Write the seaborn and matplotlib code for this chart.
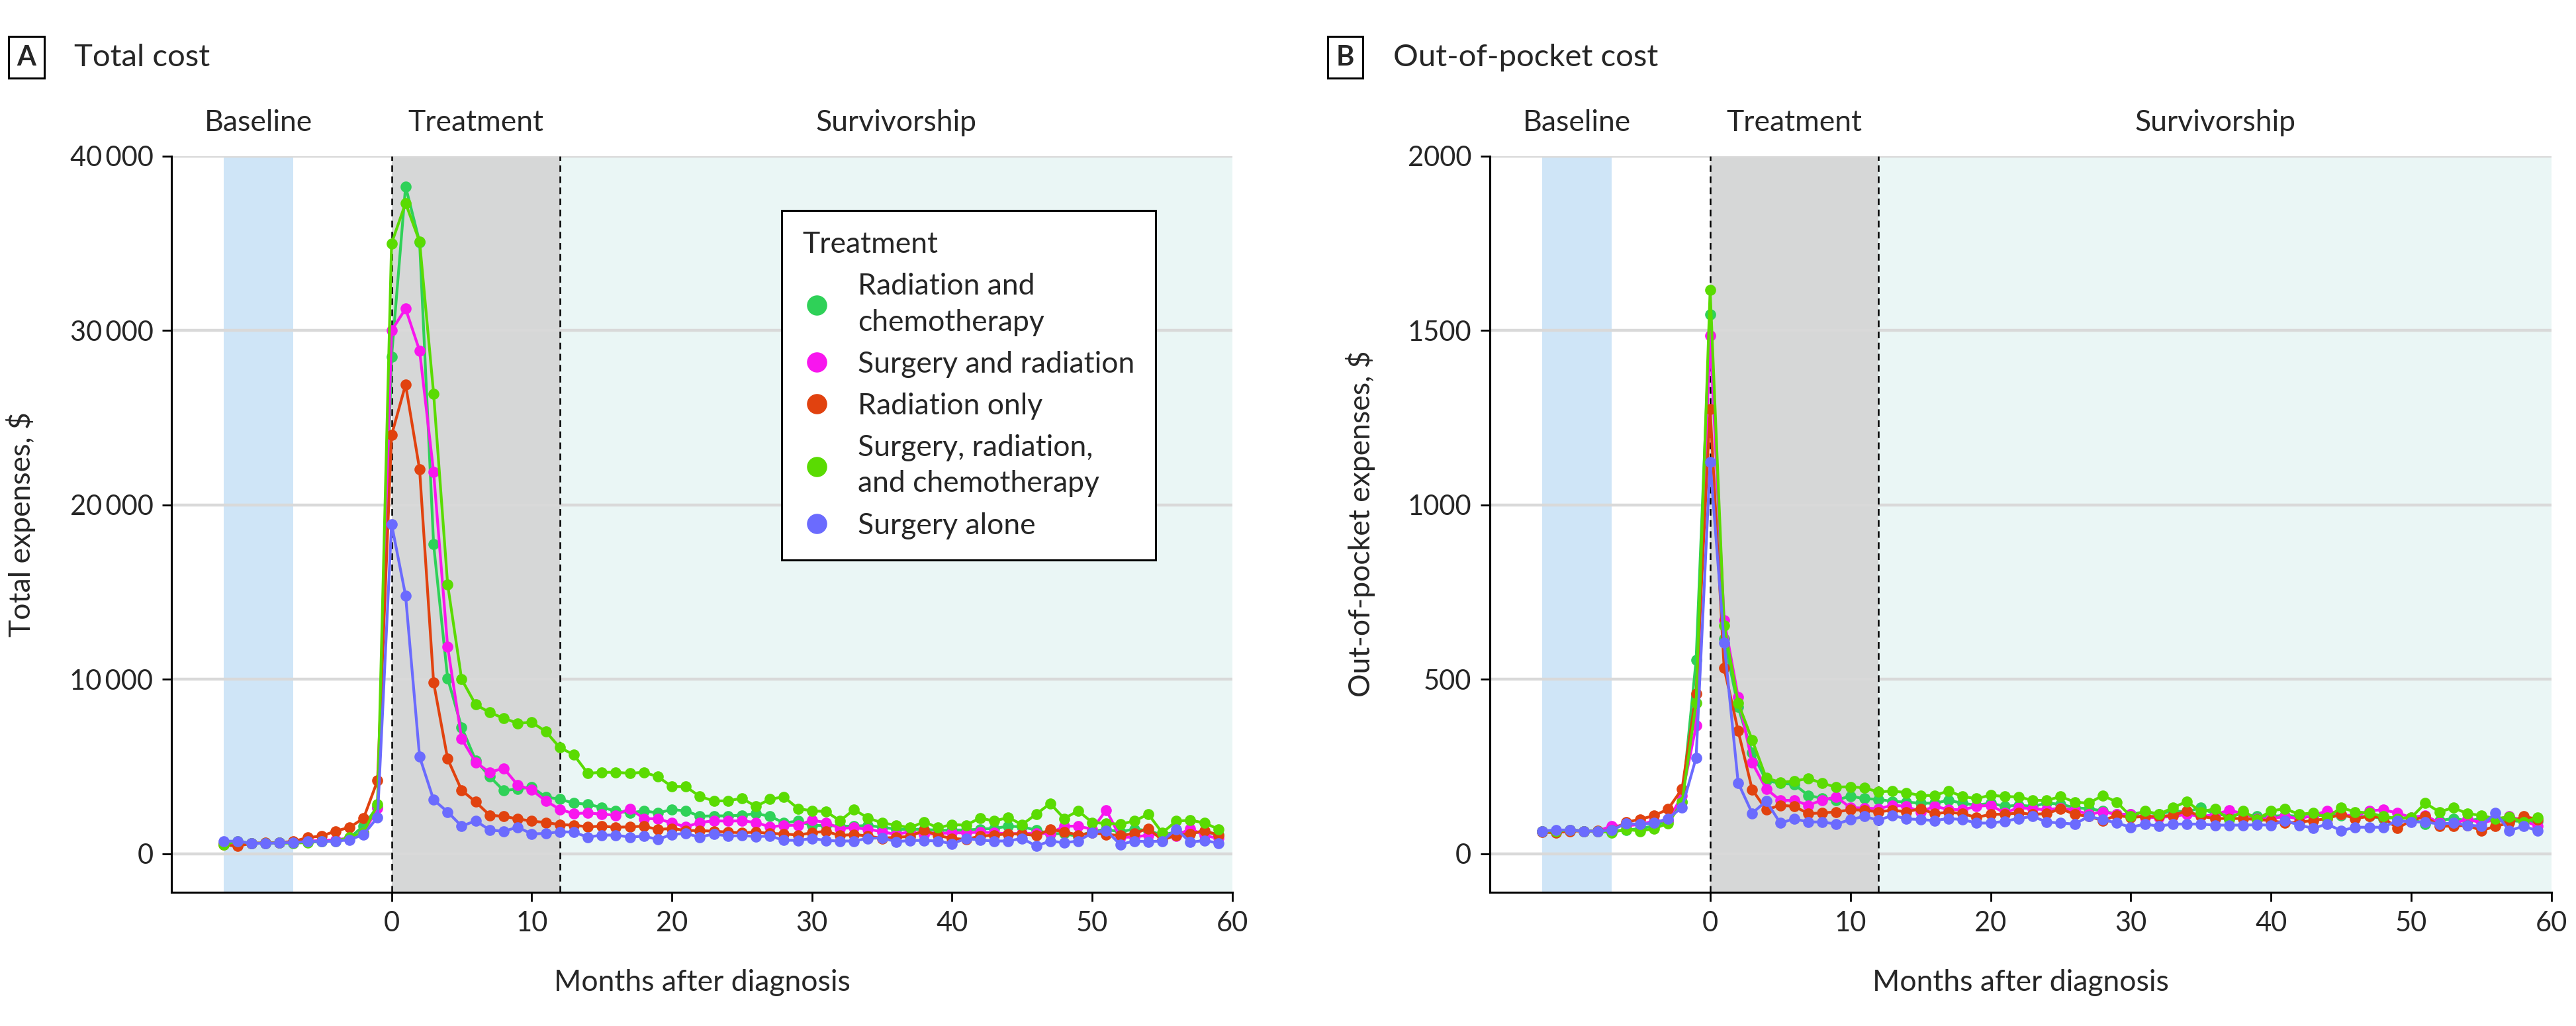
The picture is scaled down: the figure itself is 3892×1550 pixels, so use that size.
import pandas as pd
import matplotlib.pyplot as plt
import seaborn as sns
from matplotlib.lines import Line2D
from matplotlib.ticker import FuncFormatter

# months relative to diagnosis
months = list(range(-12, 60))

groups = ["Radiation and\nchemotherapy", "Surgery and radiation", "Radiation only",
          "Surgery, radiation,\nand chemotherapy", "Surgery alone"]
colors = ["#2FD158", "#F816EE", "#E1420F", "#5ADB02", "#6B6BFE"]

# Panel A: total cost ($)
total_rc = [600, 650, 600, 600, 620, 650, 700, 720, 750, 900, 1600, 2700,
            28500, 38260, 35070, 17740, 10060, 7250, 5360, 4430, 3620, 3710,
            3830, 3250, 3130, 2900, 2840, 2650, 2460, 2340, 2460, 2340,
            2530, 2460, 2150, 2170, 2170, 2210, 2300, 2150, 1770, 1870,
            1620, 1620, 1580, 1580, 1620, 1520, 1410, 1390, 1410, 1330,
            1360, 1360, 1410, 1450, 1580, 1540, 1360, 1140, 1160, 985,
            1290, 1390, 1260, 1410, 1330, 1070, 1260, 1200, 1240, 1110]
total_sr = [560, 620, 600, 600, 640, 680, 720, 760, 800, 900, 1200, 2600,
            30000, 31250, 28840, 21880, 11880, 6590, 5240, 4670, 4900, 3940,
            3660, 3030, 2550, 2300, 2340, 2270, 2210, 2590, 2020, 2000,
            1770, 1540, 1790, 1890, 1870, 1890, 1790, 1540, 1620, 1640,
            1920, 1790, 1450, 1490, 1410, 1260, 1110, 1260, 1110, 1160,
            1200, 1200, 1240, 1200, 1140, 1160, 1160, 1160, 1580, 1580,
            1410, 2500, 950, 950, 1070, 1160, 1010, 1450, 1040, 890]
total_ro = [520, 430, 600, 620, 650, 700, 930, 1010, 1300, 1510, 2030, 4200,
            24000, 26900, 22030, 9820, 5440, 3640, 2970, 2210, 2140, 2000,
            1870, 1790, 1670, 1640, 1540, 1580, 1520, 1540, 1580, 1390,
            1450, 1330, 1330, 1290, 1240, 1200, 1240, 1160, 1140, 1070,
            1200, 1290, 1040, 1110, 1010, 880, 950, 985, 1360, 1040,
            880, 820, 1010, 1070, 1140, 1140, 1040, 1390, 1260, 1070,
            1200, 1110, 1040, 1160, 1450, 780, 1070, 1140, 1330, 1070]
total_src = [520, 720, 600, 600, 620, 600, 650, 700, 720, 930, 1220, 2840,
             35000, 37300, 35100, 26380, 15450, 10000, 8550, 8100, 7770, 7480,
             7540, 7010, 6090, 5680, 4610, 4670, 4670, 4610, 4670, 4420,
             3850, 3850, 3280, 3030, 3030, 3180, 2710, 3130, 3260, 2590,
             2460, 2420, 1890, 2530, 2050, 1770, 1640, 1490, 1830, 1490,
             1670, 1640, 2050, 1870, 2080, 1670, 2270, 2880, 2020, 2460,
             1790, 1740, 1700, 1870, 2270, 1200, 1870, 1920, 1770, 1410]
total_sa = [720, 720, 600, 600, 620, 650, 700, 700, 720, 800, 1100, 2090,
            18900, 14800, 5560, 3090, 2400, 1580, 1890, 1360, 1290, 1520,
            1140, 1160, 1260, 1240, 950, 1070, 1070, 950, 1010, 820,
            1110, 1160, 950, 1140, 1010, 1040, 985, 1010, 780, 760,
            880, 760, 730, 730, 880, 910, 690, 760, 760, 730,
            570, 880, 780, 730, 730, 880, 440, 730, 630, 730,
            1200, 1330, 530, 730, 690, 730, 1410, 660, 760, 610]

# Panel B: out-of-pocket cost ($)
oop_rc = [65, 65, 68, 65, 65, 65, 68, 72, 80, 95, 150, 555,
          1546, 616, 420, 290, 210, 202, 199, 167, 159, 154,
          165, 158, 156, 150, 148, 145, 145, 153, 145, 139,
          145, 136, 139, 136, 145, 142, 132, 129, 123, 113,
          113, 120, 113, 123, 120, 132, 113, 110, 113, 107,
          107, 110, 107, 107, 113, 110, 107, 107, 101, 104,
          100, 85, 95, 101, 95, 100, 98, 95, 92, 92]
oop_sr = [65, 65, 68, 65, 65, 80, 80, 84, 94, 94, 167, 367,
          1486, 670, 449, 261, 186, 153, 153, 139, 154, 163,
          132, 131, 129, 139, 136, 120, 136, 127, 126, 136,
          139, 117, 132, 129, 126, 131, 125, 113, 120, 113,
          113, 104, 104, 107, 113, 107, 112, 125, 115, 100,
          100, 107, 100, 110, 123, 113, 107, 123, 126, 117,
          104, 110, 88, 85, 100, 88, 98, 107, 95, 79]
oop_ro = [62, 60, 65, 65, 66, 68, 90, 99, 109, 128, 186, 459,
          1275, 532, 352, 184, 126, 139, 136, 115, 117, 120,
          126, 125, 120, 125, 120, 129, 115, 119, 115, 104,
          113, 113, 117, 113, 115, 129, 113, 107, 95, 110,
          104, 107, 107, 110, 123, 107, 101, 101, 101, 98,
          95, 88, 91, 95, 101, 113, 101, 107, 104, 73,
          95, 107, 79, 79, 82, 66, 79, 88, 108, 98]
oop_src = [65, 65, 68, 65, 65, 61, 70, 65, 72, 87, 148, 432,
           1616, 655, 432, 326, 217, 205, 208, 216, 202, 191,
           192, 189, 177, 180, 175, 167, 167, 180, 164, 158,
           168, 164, 163, 153, 153, 164, 148, 145, 167, 148,
           107, 123, 113, 132, 150, 120, 129, 98, 123, 98,
           123, 129, 113, 117, 104, 132, 120, 117, 107, 101,
           104, 145, 120, 132, 115, 110, 100, 106, 90, 104]
oop_sa = [65, 68, 68, 65, 65, 68, 87, 84, 88, 101, 133, 275,
          1123, 604, 203, 116, 151, 88, 100, 91, 91, 85,
          98, 107, 96, 110, 100, 98, 95, 101, 98, 88,
          88, 93, 101, 107, 91, 88, 85, 107, 98, 88,
          76, 85, 79, 85, 85, 85, 82, 82, 82, 83,
          82, 95, 82, 73, 85, 66, 76, 76, 76, 95,
          91, 91, 85, 88, 82, 79, 117, 66, 79, 66]


def long_frame(series):
    rows = []
    for g, vals in zip(groups, series):
        for m, v in zip(months, vals):
            rows.append({"month": m, "cost": v, "treatment": g})
    return pd.DataFrame(rows)


df_total = long_frame([total_rc, total_sr, total_ro, total_src, total_sa])
df_oop = long_frame([oop_rc, oop_sr, oop_ro, oop_src, oop_sa])

sns.set_style("ticks")
plt.rcParams["font.family"] = ["Lato", "DejaVu Sans"]
FS = 15

fig = plt.figure(figsize=(19.46, 7.75), dpi=200)
ax_a = fig.add_axes([0.0666, 0.1305, 0.4118, 0.7174])
ax_b = fig.add_axes([0.5784, 0.1305, 0.4121, 0.7174])


def fmt_thousands(v, pos):
    v = int(round(v))
    if v >= 10000:
        return f"{v // 1000}\u2009{v % 1000:03d}"
    return str(v)


def style_panel(ax, df, ymax, ystep, ymin, ylabel, label_x):
    ax.axvspan(-12, -7, color="#CFE5F7", lw=0, zorder=0.2)
    ax.axvspan(0, 12, color="#D6D7D7", lw=0, zorder=0.2)
    ax.axvspan(12, 60, color="#EAF6F5", lw=0, zorder=0.2)
    ax.set_axisbelow(True)
    ax.yaxis.grid(True, color="#D9D9D9", lw=1.6)
    ax.xaxis.grid(False)
    for xv in (0, 12):
        ax.axvline(xv, color="black", ls=(0, (4, 2.7)), lw=0.9, zorder=1)

    sns.lineplot(data=df, x="month", y="cost", hue="treatment", hue_order=groups,
                 palette=dict(zip(groups, colors)), marker="o", markersize=6,
                 markeredgewidth=0, linewidth=1.5, legend=False, ax=ax,
                 errorbar=None, zorder=3)

    ax.set_xlim(-15.7, 60)
    ax.set_ylim(ymin, ymax)
    ax.set_xticks(range(0, 61, 10))
    ax.set_yticks(range(0, ymax + 1, ystep))
    ax.yaxis.set_major_formatter(FuncFormatter(fmt_thousands))
    ax.tick_params(axis="both", direction="out", length=5, width=1, color="black",
                   labelsize=FS, pad=5)
    sns.despine(ax=ax)
    for s in ("left", "bottom"):
        ax.spines[s].set_color("black")
        ax.spines[s].set_linewidth(1.1)

    ax.set_xlabel("Months after diagnosis", fontsize=FS + 1)
    ax.set_ylabel(ylabel, fontsize=FS + 1)
    ax.xaxis.set_label_coords(0.5, -0.105)
    ax.yaxis.set_label_coords(label_x, 0.5)

    trans = ax.get_xaxis_transform()
    for xc, txt in ((-9.5, "Baseline"), (6, "Treatment"), (36, "Survivorship")):
        ax.text(xc, 1.045, txt, transform=trans, ha="center", va="center", fontsize=FS + 1)


style_panel(ax_a, df_total, 40000, 10000, -2200, "Total expenses, $", -0.128)
style_panel(ax_b, df_oop, 2000, 500, -110, "Out-of-pocket expenses, $", -0.108)

# panel tags
for x_box, x_title, tag, title in ((0.0102, 0.0287, "A", "Total cost"),
                                   (0.5222, 0.5408, "B", "Out-of-pocket cost")):
    fig.text(x_box, 0.944, tag, ha="center", va="center", fontsize=FS, fontweight="bold",
             bbox=dict(boxstyle="square,pad=0.3", fc="white", ec="black", lw=1.1))
    fig.text(x_title, 0.944, title, ha="left", va="center", fontsize=FS + 2)

handles = [Line2D([], [], ls="none", marker="o", markersize=11, markeredgewidth=0, color=c)
           for c in colors]
leg = ax_a.legend(handles, groups, title="Treatment", loc="upper left",
                  bbox_to_anchor=(0.575, 0.926), borderaxespad=0, fontsize=FS + 1,
                  title_fontsize=FS + 1, frameon=True, fancybox=False, framealpha=1,
                  edgecolor="black", handlelength=1.0, handletextpad=0.9,
                  labelspacing=0.5, borderpad=0.7, alignment="left")
for t in leg.get_texts():
    t.set_linespacing(1.4)
leg.get_frame().set_linewidth(1.1)
leg.set_zorder(5)

fig.savefig("out.png", dpi=200)
